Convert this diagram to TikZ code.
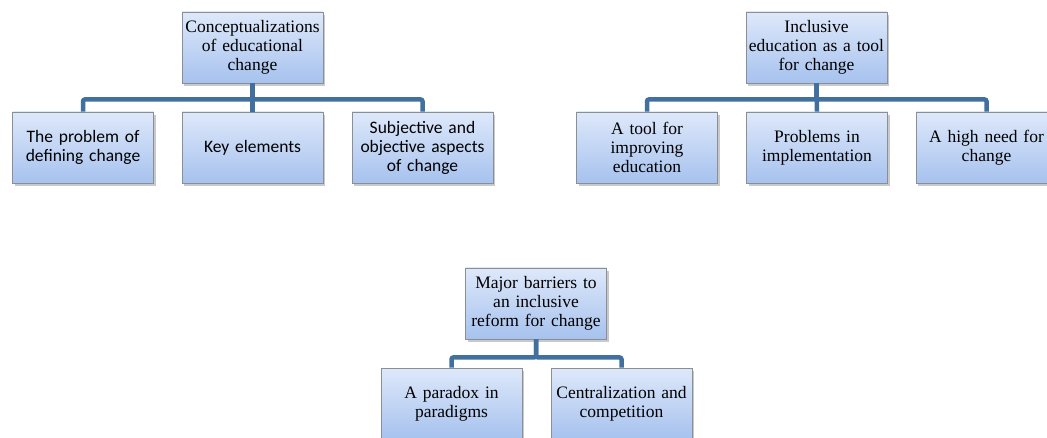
\documentclass[tikz,border=0pt]{standalone}
\usepackage{fontspec}
\setmainfont{Liberation Serif}
\newfontfamily\sansf{Carlito}
\usetikzlibrary{shadows}
\definecolor{boxtop}{HTML}{DEE8FA}
\definecolor{boxbot}{HTML}{A6C2EE}
\definecolor{boxline}{HTML}{8A8F96}
\definecolor{conn}{HTML}{41709F}
\tikzset{
  box/.style={rectangle, draw=boxline, line width=0.9pt, top color=boxtop, bottom color=boxbot,
    minimum width=141pt, minimum height=71pt, text width=141pt, inner sep=0pt, align=center,
    font=\fontsize{17.5}{19}\selectfont,
    drop shadow={shadow xshift=2pt, shadow yshift=-3pt, opacity=0.35, fill=black!60}},
  sbox/.style={box, font=\sansf\fontsize{17.5}{19}\selectfont},
  link/.style={draw=conn, line width=4.5pt, rounded corners=2pt},
}
\begin{document}
\begin{tikzpicture}[x=1pt,y=-1pt]
\clip (0,0) rectangle (1047,438);
\fill[white] (0,0) rectangle (1047,438);
% tree 1
\node[box] (r1) at (252.5,47.5) {Conceptualizations\\of educational\\change};
\node[sbox] (a1) at (83,147.5) {The problem of\\defining change};
\node[sbox] (a2) at (252.5,147.5) {Key elements};
\node[sbox] (a3) at (422.5,147.5) {Subjective and\\objective aspects\\of change};
% tree 2
\node[box] (r2) at (816.5,47.5) {Inclusive\\education as a tool\\for change};
\node[box] (b1) at (647,147.5) {A tool for\\improving\\education};
\node[box] (b2) at (817,147.5) {Problems in\\implementation};
\node[box] (b3) at (986.5,147.5) {A high need for\\change};
% tree 3
\node[box] (r3) at (536,303.5) {Major barriers to\\an inclusive\\reform for change};
\node[box] (c1) at (451.5,403.5) {A paradox in\\paradigms};
\node[box] (c2) at (621.5,403.5) {Centralization and\\competition};
% connectors
\draw[link] (r1.south) -- ++(0,16) -| (a1.north);
\draw[link] (r1.south) -- ++(0,16) -| (a3.north);
\draw[link] (r1.south) -- (a2.north);
\draw[link] (r2.south) -- ++(0,16) -| (b1.north);
\draw[link] (r2.south) -- ++(0,16) -| (b3.north);
\draw[link] (r2.south) -- (b2.north);
\draw[link] (r3.south) -- ++(0,18) -| (c1.north);
\draw[link] (r3.south) -- ++(0,18) -| (c2.north);
\end{tikzpicture}
\end{document}
